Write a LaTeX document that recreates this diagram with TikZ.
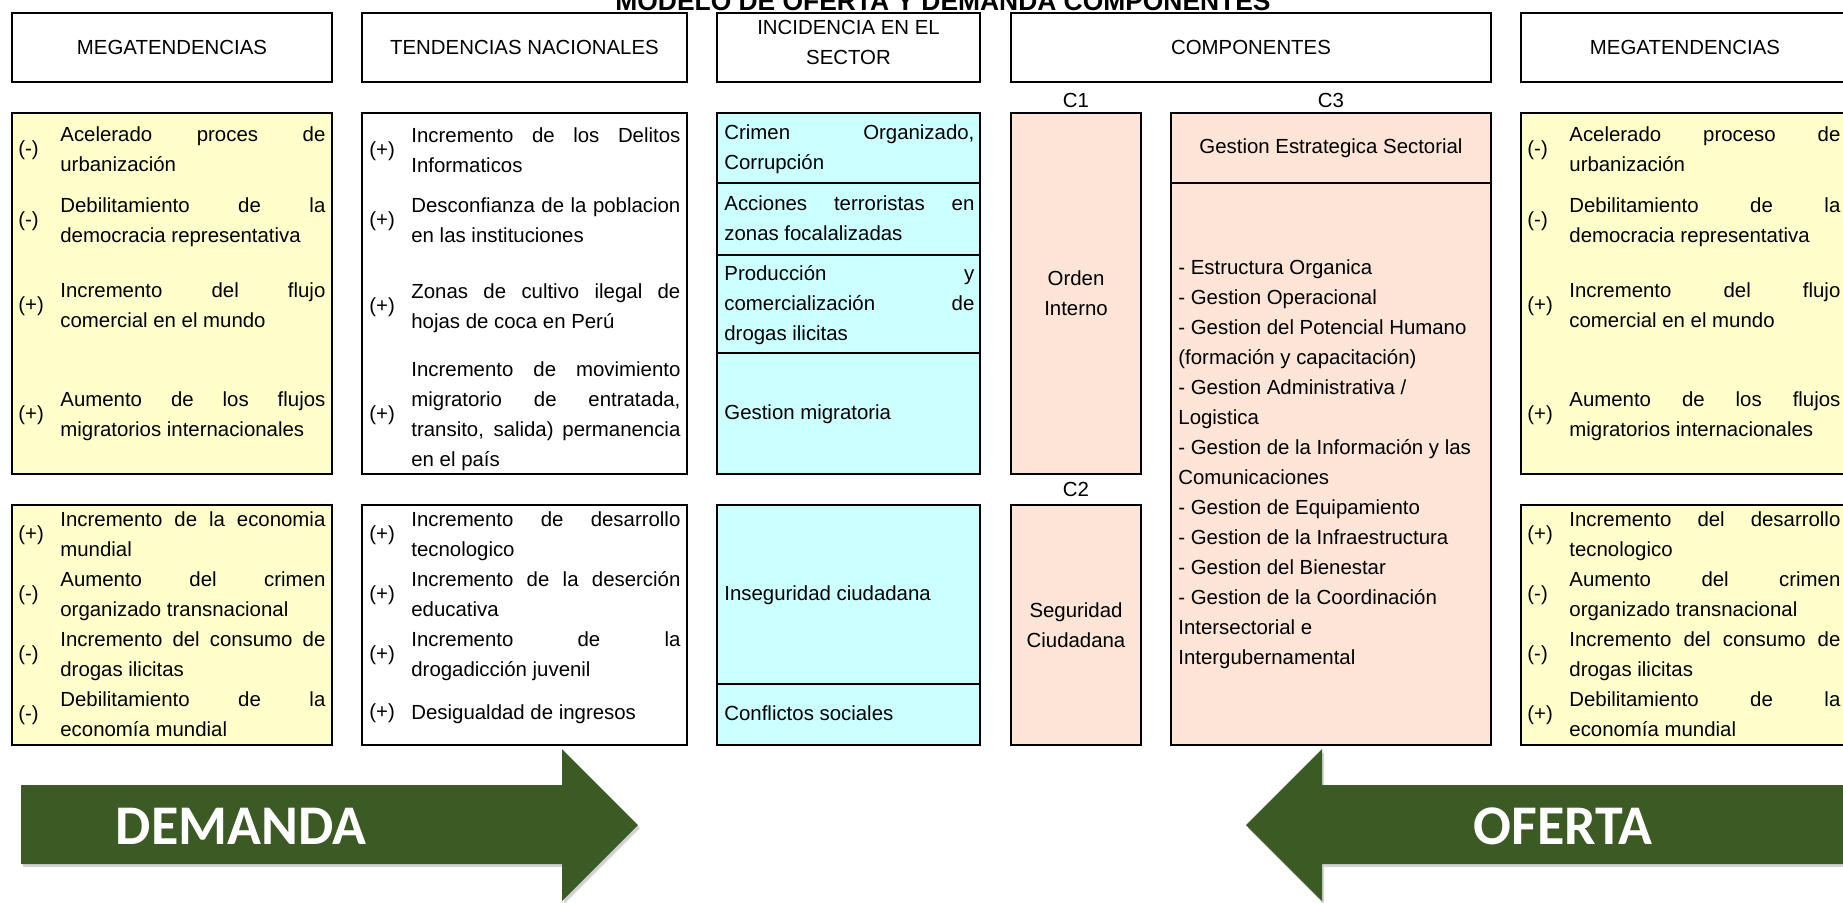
\documentclass[tikz,border=0pt]{standalone}
\usepackage{fontspec}
\setmainfont{Liberation Sans}
\newfontfamily\flechafont{Carlito}
\usetikzlibrary{fit,shadows}

\definecolor{megayellow}{HTML}{FFFFCC}
\definecolor{sectorcyan}{HTML}{CCFFFF}
\definecolor{comppeach}{HTML}{FCE4D6}
\definecolor{flechagreen}{HTML}{3C5A24}

\newcommand{\celda}{\fontsize{10.2pt}{15pt}\selectfont\hyphenpenalty=10000\exhyphenpenalty=10000\hbadness=10000}

\tikzset{
  caja/.style={draw=black, line width=1.3pt, inner sep=0pt},
  amarilla/.style={caja, fill=megayellow},
  celeste/.style={caja, fill=sectorcyan},
  durazno/.style={caja, fill=comppeach},
  blanca/.style={caja, fill=white},
  signo/.style={font=\celda, inner sep=0pt, anchor=west},
  texto/.style={font=\celda, inner sep=0pt, anchor=west, text width=#1, align=justify,
    execute at begin node={\noindent\strut}, execute at end node={\strut}},
  cabecera/.style={font=\celda, inner sep=0pt, align=center},
  flecha/.style={fill=flechagreen, drop shadow={opacity=0.35, shadow xshift=1pt, shadow yshift=-1.5pt}},
  rotulo/.style={font=\flechafont\bfseries\fontsize{28pt}{30pt}\selectfont, text=white, inner sep=0pt}
}

% signo + texto de una tendencia
\newcommand{\tend}[6]{%
  \node[signo] (#1s) at (#2,#3) {#4};
  \node[texto=#5] (#1) at (#2+42,#3) {#6};}

\begin{document}
\begin{tikzpicture}[x=0.5pt,y=-0.5pt]
\useasboundingbox (0,0) rectangle (1843,902);
\clip (0,0) rectangle (1843,902);

\node[font=\fontsize{13.2pt}{15pt}\selectfont\bfseries, anchor=base, inner sep=0pt] (titulo) at (943,10) {MODELO DE OFERTA Y DEMANDA COMPONENTES};

% cabeceras
\node[blanca, fit={(12,13) (332,82)}] (h1) {};
\node[blanca, fit={(362,13) (687,82)}] (h2) {};
\node[blanca, fit={(717,13) (980,82)}] (h3) {};
\node[blanca, fit={(1011,13) (1491,82)}] (h4) {};
\node[blanca, fit={(1521,13) (1849,82)}] (h5) {};
\node[cabecera] (h1t) at (h1) {MEGATENDENCIAS};
\node[cabecera] (h2t) at (h2) {TENDENCIAS NACIONALES};
\node[cabecera] (h3t) at (848.5,42) {INCIDENCIA EN EL\\SECTOR};
\node[cabecera] (h4t) at (h4) {COMPONENTES};
\node[cabecera] (h5t) at (1685,47.5) {MEGATENDENCIAS};

\node[cabecera] (lc1) at (1076,100) {C1};
\node[cabecera] (lc3) at (1331,100) {C3};
\node[cabecera] (lc2) at (1076,489) {C2};

% cajas
\node[amarilla, fit={(12,113) (332,474)}] (m1) {};
\node[blanca, fit={(362,113) (687,474)}] (n1) {};
\node[celeste, fit={(717,113) (980,183)}] (s1) {};
\node[celeste, fit={(717,183) (980,255)}] (s2) {};
\node[celeste, fit={(717,255) (980,353)}] (s3) {};
\node[celeste, fit={(717,353) (980,474)}] (s4) {};
\node[durazno, fit={(1011,113) (1141,474)}] (c1) {};
\node[durazno, fit={(1171,113) (1491,183)}] (c3a) {};
\node[durazno, fit={(1171,183) (1491,745)}] (c3b) {};
\node[amarilla, fit={(1521,113) (1849,474)}] (m3) {};

\node[amarilla, fit={(12,505) (332,745)}] (m2) {};
\node[blanca, fit={(362,505) (687,745)}] (n2) {};
\node[celeste, fit={(717,505) (980,684)}] (s5) {};
\node[celeste, fit={(717,684) (980,745)}] (s6) {};
\node[durazno, fit={(1011,505) (1141,745)}] (c2) {};
\node[amarilla, fit={(1521,505) (1849,745)}] (m4) {};

% megatendencias (demanda)
\tend{m1a}{18}{150}{(-)}{132.5pt}{Acelerado proces de\linebreak urbanización}
\tend{m1b}{18}{221}{(-)}{132.5pt}{Debilitamiento de la\linebreak democracia representativa}
\tend{m1c}{18}{306}{(+)}{132.5pt}{Incremento del flujo\linebreak comercial en el mundo}
\tend{m1d}{18}{415}{(+)}{132.5pt}{Aumento de los flujos\linebreak migratorios internacionales}
\tend{m2a}{18}{535}{(+)}{132.5pt}{Incremento de la economia\linebreak mundial}
\tend{m2b}{18}{595}{(-)}{132.5pt}{Aumento del crimen\linebreak organizado transnacional}
\tend{m2c}{18}{655}{(-)}{132.5pt}{Incremento del consumo de\linebreak drogas ilicitas}
\tend{m2d}{18}{715}{(-)}{132.5pt}{Debilitamiento de la\linebreak economía mundial}

% tendencias nacionales
\tend{n1a}{369}{151}{(+)}{134.5pt}{Incremento de los Delitos\linebreak Informaticos}
\tend{n1b}{369}{221}{(+)}{134.5pt}{Desconfianza de la poblacion\linebreak en las instituciones}
\tend{n1c}{369}{307}{(+)}{134.5pt}{Zonas de cultivo ilegal de\linebreak hojas de coca en Perú}
\tend{n1d}{369}{415}{(+)}{134.5pt}{Incremento de movimiento\linebreak migratorio de entratada,\linebreak transito, salida) permanencia\linebreak en el país}
\tend{n2a}{369}{535}{(+)}{134.5pt}{Incremento de desarrollo\linebreak tecnologico}
\tend{n2b}{369}{595}{(+)}{134.5pt}{Incremento de la deserción\linebreak educativa}
\tend{n2c}{369}{655}{(+)}{134.5pt}{Incremento de la\linebreak drogadicción juvenil}
\tend{n2d}{369}{713}{(+)}{134.5pt}{Desigualdad de ingresos}

% incidencia en el sector
\node[texto=125pt] (s1t) at (724,148) {Crimen Organizado,\linebreak Corrupción};
\node[texto=125pt] (s2t) at (724,219) {Acciones terroristas en\linebreak zonas focalalizadas};
\node[texto=125pt] (s3t) at (724,304) {Producción y\linebreak comercialización de\linebreak drogas ilicitas};
\node[texto=125pt] (s4t) at (724,413.5) {Gestion migratoria};
\node[texto=125pt] (s5t) at (724,594.5) {Inseguridad ciudadana};
\node[texto=125pt] (s6t) at (724,714.5) {Conflictos sociales};

% componentes
\node[cabecera] (c1t) at (c1) {Orden\\Interno};
\node[cabecera] (c2t) at (c2) {Seguridad\\Ciudadana};
\node[cabecera] (c3at) at (c3a) {Gestion Estrategica Sectorial};
\node[font=\celda, align=left, anchor=west, inner sep=0pt] (c3bt) at (1178,464) {- Estructura Organica\\- Gestion Operacional\\- Gestion del Potencial Humano\\(formación y capacitación)\\- Gestion Administrativa /\\Logistica\\- Gestion de la Información y las\\Comunicaciones\\- Gestion de Equipamiento\\- Gestion de la Infraestructura\\- Gestion del Bienestar\\- Gestion de la Coordinación\\Intersectorial e\\Intergubernamental};

% megatendencias (oferta)
\tend{m3a}{1527}{150}{(-)}{135.5pt}{Acelerado proceso de\linebreak urbanización}
\tend{m3b}{1527}{221}{(-)}{135.5pt}{Debilitamiento de la\linebreak democracia representativa}
\tend{m3c}{1527}{306}{(+)}{135.5pt}{Incremento del flujo\linebreak comercial en el mundo}
\tend{m3d}{1527}{415}{(+)}{135.5pt}{Aumento de los flujos\linebreak migratorios internacionales}
\tend{m4a}{1527}{535}{(+)}{135.5pt}{Incremento del desarrollo\linebreak tecnologico}
\tend{m4b}{1527}{595}{(-)}{135.5pt}{Aumento del crimen\linebreak organizado transnacional}
\tend{m4c}{1527}{655}{(-)}{135.5pt}{Incremento del consumo de\linebreak drogas ilicitas}
\tend{m4d}{1527}{715}{(+)}{135.5pt}{Debilitamiento de la\linebreak economía mundial}

% flechas
\fill[flecha] (21,785) -- (562,785) -- (562,749) -- (638,825) -- (562,901) -- (562,864) -- (21,864) -- cycle;
\fill[flecha] (1850,785) -- (1322,785) -- (1322,749) -- (1246,825) -- (1322,901) -- (1322,864) -- (1850,864) -- cycle;
\node[rotulo] (demanda) at (241,826) {DEMANDA};
\node[rotulo] (oferta) at (1563,826) {OFERTA};
\end{tikzpicture}
\end{document}
